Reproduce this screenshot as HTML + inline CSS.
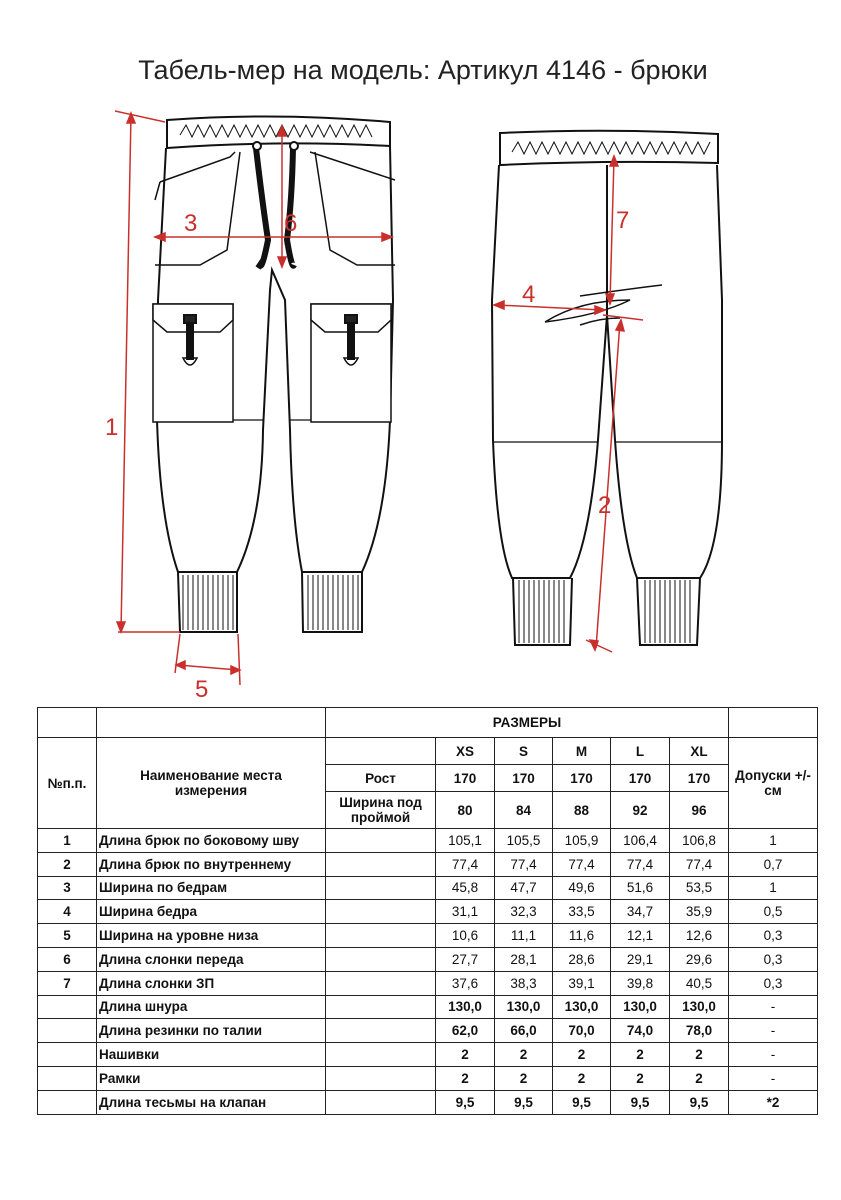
<!DOCTYPE html>
<html><head><meta charset="utf-8"><style>
body{margin:0;width:841px;height:1200px;background:#fff;position:relative;font-family:"Liberation Sans",sans-serif;overflow:hidden}
.t{position:absolute;top:55px;left:0;width:846px;text-align:center;font-size:27px;color:#222}
table{position:absolute;left:37px;top:707px;border-collapse:collapse;font-size:13.5px;font-weight:bold;color:#111}
td{border:1px solid #222;padding:0 2px;text-align:center;height:22.8px;line-height:15px}
td.l{text-align:left}
td.n{font-weight:normal}
</style></head><body>
<div class="t">Табель-мер на модель: Артикул 4146 - брюки</div>
<svg width="841" height="700" style="position:absolute;left:0;top:0" fill="none" stroke="#111" stroke-width="2">
<!-- front -->
<path d="M167 120 Q278 112 390 122 L390 146 Q278 140 167 148 Z" fill="#fff"/>
<path d="M180 135 l6 -10 l6 12 l6 -12 l6 12 l6 -12 l6 12 l6 -12 l6 12 l6 -12 l6 12 l6 -12 l6 12 l6 -12 l6 12 l6 -12 l6 12 l6 -12 l6 12 l6 -12 l6 12 l6 -12 l6 12 l6 -12 l6 12 l6 -12 l6 12 l6 -12 l6 12 l6 -12 l6 12 l6 -12 l6 12" stroke-width="1"/>
<path d="M166 148 L158 300 L157 420 Q160 520 178 572 L237 572 Q262 520 263 430 L270 290 L272 270 L285 300 L290 430 Q292 520 302 572 L362 572 Q386 520 390 420 L393 300 L390 146"/>
<path d="M178 572 L180 632 L237 632 L237 572 M302 572 L303 632 L362 632 L362 572"/>
<path d="M183 575 V630 M188 575 V630 M193 575 V630 M198 575 V630 M203 575 V630 M208 575 V630 M213 575 V630 M218 575 V630 M223 575 V630 M228 575 V630 M233 575 V630 M308 575 V630 M313 575 V630 M318 575 V630 M323 575 V630 M328 575 V630 M333 575 V630 M338 575 V630 M343 575 V630 M348 575 V630 M353 575 V630 M358 575 V630" stroke-width="1"/>
<path d="M158 420 L263 420 M290 420 L390 420" stroke-width="1.2"/>
<path d="M240 152 L227 250 L200 265 L155 265 M160 182 L155 200 M235 152 L230 157 L160 182" stroke-width="1.5"/>
<path d="M315 152 L330 250 L357 265 L395 265 M310 152 L395 180" stroke-width="1.5"/>
<rect x="153" y="304" width="80" height="118" fill="#fff" stroke-width="1.5"/>
<path d="M153 304 L233 304 L233 320 L220 332 L167 332 L153 320 Z" fill="#fff" stroke-width="1.5"/>
<rect x="311" y="304" width="80" height="118" fill="#fff" stroke-width="1.5"/>
<path d="M311 304 L391 304 L391 320 L378 332 L325 332 L311 320 Z" fill="#fff" stroke-width="1.5"/>
<rect x="184" y="315" width="12" height="8" fill="#222"/><rect x="187" y="323" width="6" height="36" fill="#111"/>
<path d="M183 358 Q190 372 197 358 Z" stroke-width="1.5"/>
<rect x="345" y="315" width="12" height="8" fill="#222"/><rect x="348" y="323" width="6" height="36" fill="#111"/>
<path d="M344 358 Q351 372 358 358 Z" stroke-width="1.5"/>
<path d="M256 148 Q262 200 268 240 Q262 270 260 265 L258 268" stroke-width="6"/>
<path d="M293 148 Q292 200 287 240 Q292 270 294 265" stroke-width="6"/>
<circle cx="257" cy="146" r="4" fill="#fff"/><circle cx="294" cy="146" r="4" fill="#fff"/>
<!-- back -->
<path d="M500 133 Q608 128 718 134 L718 163 Q608 160 500 165 Z" fill="#fff"/>
<path d="M512 152 l6 -10 l6 12 l6 -12 l6 12 l6 -12 l6 12 l6 -12 l6 12 l6 -12 l6 12 l6 -12 l6 12 l6 -12 l6 12 l6 -12 l6 12 l6 -12 l6 12 l6 -12 l6 12 l6 -12 l6 12 l6 -12 l6 12 l6 -12 l6 12 l6 -12 l6 12 l6 -12 l6 12 l6 -12 l6 12 l6 -12" stroke-width="1"/>
<path d="M499 165 L492 300 L493 440 Q497 545 512 578 L570 578 Q590 540 598 440 L607 315 L615 440 Q622 540 637 578 L700 578 Q722 545 722 440 L722 300 L717 165"/>
<path d="M607 165 V315"/>
<path d="M493 442 H598 M616 442 H722" stroke-width="1.2"/>
<path d="M513 578 L515 645 L570 645 L572 578 M637 578 L640 645 L697 645 L700 578"/>
<path d="M519 580 V643 M524 580 V643 M529 580 V643 M534 580 V643 M539 580 V643 M544 580 V643 M549 580 V643 M554 580 V643 M559 580 V643 M564 580 V643 M645 580 V643 M650 580 V643 M655 580 V643 M660 580 V643 M665 580 V643 M670 580 V643 M675 580 V643 M680 580 V643 M685 580 V643 M690 580 V643" stroke-width="1"/>
<path d="M545 322 Q580 300 630 300 Q600 315 545 322 M580 296 Q620 290 662 285 M580 325 Q600 318 620 318" stroke-width="1.5"/>
<!-- red -->
<g stroke="#c9302c" stroke-width="1.5" fill="#c9302c">
<path d="M115 111 L165 122 M131 115 L121 630 M118 632 L180 632 M180 634 L175 673 M238 634 L240 685 M178 665 L238 670 M155 237 L390 237 M282 128 L282 265 M496 305 L603 310 M614 158 L610 302 M596 648 L620 322 M603 315 L643 320 M586 640 L612 652"/>
<path d="M131 113 l-4 10 h8 Z M121 632 l-4 -10 h8 Z M155 237 l10 -4 v8 Z M392 237 l-10 -4 v8 Z M282 126 l-4 10 h8 Z M282 267 l-4 -10 h8 Z M176 665 l9 -4 v8 Z M240 670 l-9 -4 v8 Z M494 305 l10 -4 v8 Z M605 310 l-10 -4 v8 Z M614 156 l-4 10 h8 Z M610 304 l-4 -10 h8 Z M621 320 l-5 10 l8 1 Z M595 650 l-5 -10 l8 1 Z"/>
</g>
<g fill="#c9302c" stroke="none" font-family="Liberation Sans" font-size="24">
<text x="105" y="435">1</text><text x="598" y="513">2</text><text x="184" y="231">3</text><text x="522" y="302">4</text><text x="195" y="697">5</text><text x="284" y="231">6</text><text x="616" y="228">7</text>
</g>
</svg>
<table>
<colgroup><col style="width:59px"><col style="width:229px"><col style="width:110px"><col style="width:59px"><col style="width:58px"><col style="width:58px"><col style="width:59px"><col style="width:59px"><col style="width:89px"></colgroup>
<tr><td style="height:29px"></td><td></td><td colspan="6">РАЗМЕРЫ</td><td></td></tr>
<tr><td rowspan="3">№п.п.</td><td rowspan="3">Наименование места<br>измерения</td><td style="height:26px"></td><td>XS</td><td>S</td><td>M</td><td>L</td><td>XL</td><td rowspan="3">Допуски +/-<br>см</td></tr>
<tr><td style="height:26px">Рост</td><td>170</td><td>170</td><td>170</td><td>170</td><td>170</td></tr>
<tr><td style="height:36px">Ширина под<br>проймой</td><td>80</td><td>84</td><td>88</td><td>92</td><td>96</td></tr>
<tr><td>1</td><td class="l">Длина брюк по боковому шву</td><td></td><td class="n">105,1</td><td class="n">105,5</td><td class="n">105,9</td><td class="n">106,4</td><td class="n">106,8</td><td class="n">1</td></tr>
<tr><td>2</td><td class="l">Длина брюк по внутреннему</td><td></td><td class="n">77,4</td><td class="n">77,4</td><td class="n">77,4</td><td class="n">77,4</td><td class="n">77,4</td><td class="n">0,7</td></tr>
<tr><td>3</td><td class="l">Ширина по бедрам</td><td></td><td class="n">45,8</td><td class="n">47,7</td><td class="n">49,6</td><td class="n">51,6</td><td class="n">53,5</td><td class="n">1</td></tr>
<tr><td>4</td><td class="l">Ширина бедра</td><td></td><td class="n">31,1</td><td class="n">32,3</td><td class="n">33,5</td><td class="n">34,7</td><td class="n">35,9</td><td class="n">0,5</td></tr>
<tr><td>5</td><td class="l">Ширина на уровне низа</td><td></td><td class="n">10,6</td><td class="n">11,1</td><td class="n">11,6</td><td class="n">12,1</td><td class="n">12,6</td><td class="n">0,3</td></tr>
<tr><td>6</td><td class="l">Длина слонки переда</td><td></td><td class="n">27,7</td><td class="n">28,1</td><td class="n">28,6</td><td class="n">29,1</td><td class="n">29,6</td><td class="n">0,3</td></tr>
<tr><td>7</td><td class="l">Длина слонки ЗП</td><td></td><td class="n">37,6</td><td class="n">38,3</td><td class="n">39,1</td><td class="n">39,8</td><td class="n">40,5</td><td class="n">0,3</td></tr>
<tr><td></td><td class="l">Длина шнура</td><td></td><td>130,0</td><td>130,0</td><td>130,0</td><td>130,0</td><td>130,0</td><td class="n">-</td></tr>
<tr><td></td><td class="l">Длина резинки по талии</td><td></td><td>62,0</td><td>66,0</td><td>70,0</td><td>74,0</td><td>78,0</td><td class="n">-</td></tr>
<tr><td></td><td class="l">Нашивки</td><td></td><td>2</td><td>2</td><td>2</td><td>2</td><td>2</td><td class="n">-</td></tr>
<tr><td></td><td class="l">Рамки</td><td></td><td>2</td><td>2</td><td>2</td><td>2</td><td>2</td><td class="n">-</td></tr>
<tr><td></td><td class="l">Длина тесьмы на клапан</td><td></td><td>9,5</td><td>9,5</td><td>9,5</td><td>9,5</td><td>9,5</td><td>*2</td></tr>
</table>
</body></html>
